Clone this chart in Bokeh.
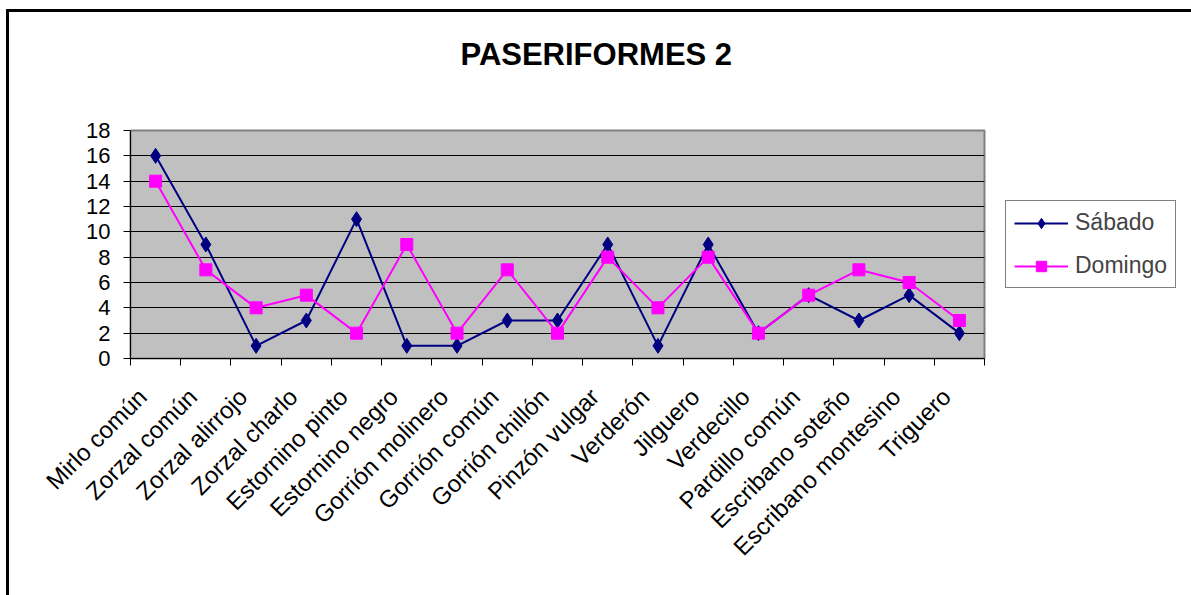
import math
from bokeh.plotting import figure
from bokeh.models import (Range1d, FixedTicker, Legend, LegendItem, ColumnDataSource,
                          LinearAxis)
from bokeh.embed import file_html
from bokeh.resources import INLINE

categories = ["Mirlo común", "Zorzal común", "Zorzal alirrojo", "Zorzal charlo",
              "Estornino pinto", "Estornino negro", "Gorrión molinero", "Gorrión común",
              "Gorrión chillón", "Pinzón vulgar", "Verderón", "Jilguero", "Verdecillo",
              "Pardillo común", "Escribano soteño", "Escribano montesino", "Triguero"]
sabado = [16, 9, 1, 3, 11, 1, 1, 3, 3, 9, 1, 9, 2, 5, 3, 5, 2]
domingo = [14, 7, 4, 5, 2, 9, 2, 7, 2, 8, 4, 8, 2, 5, 7, 6, 3]
y_ticks = list(range(0, 19, 2))
title_text = "PASERIFORMES 2"
series_names = ["Sábado", "Domingo"]

FONT = "Liberation Sans"
n = len(categories)
xpos = [i + 0.5 for i in range(n)]
src = ColumnDataSource(dict(x=xpos, s=sabado, d=domingo))

p = figure(width=1176, height=583, frame_width=854, frame_height=228,
           x_range=Range1d(0, n), y_range=Range1d(0, 18),
           output_backend="svg", toolbar_location=None,
           min_border_left=121, min_border_right=201, min_border_top=118,
           min_border_bottom=237, background_fill_color="#C0C0C0",
           border_fill_color="white")
p.styles = {"border-left": "3px solid black", "border-top": "3px solid black",
            "border-right": "3px solid black", "margin-left": "6px", "margin-top": "9px"}
p.outline_line_color = "#808080"
p.outline_line_width = 2

p.title.text = title_text
p.title.align = "left"
p.title.text_color = "black"
p.title.text_font = FONT
p.title.text_font_size = "31px"
p.title.text_font_style = "bold"
p.title.offset = 330
p.title.standoff = 42

# y axis
ya = p.left[0]
ya.ticker = FixedTicker(ticks=y_ticks)
ya.major_tick_out = 7
ya.major_tick_in = 0
ya.minor_tick_line_color = None
ya.major_label_standoff = 13
ya.major_label_text_font = FONT
ya.major_label_text_font_size = "22px"
ya.major_label_text_color = "black"
ya.axis_line_color = "black"
ya.major_tick_line_color = "black"

p.ygrid.ticker = FixedTicker(ticks=y_ticks)
p.ygrid.grid_line_color = "black"
p.xgrid.grid_line_color = None

# x axis: labels near category centres, ticks at category boundaries
xa = p.below[0]
label_ticks = [i + 0.24 for i in range(n)]
xa.ticker = FixedTicker(ticks=label_ticks, minor_ticks=list(range(n + 1)))
xa.major_label_overrides = {t: c for t, c in zip(label_ticks, categories)}
xa.major_tick_out = 0
xa.major_tick_in = 0
xa.minor_tick_out = 7
xa.minor_tick_in = 0
xa.minor_tick_line_color = "black"
xa.axis_line_color = "black"
xa.major_label_orientation = math.pi / 4
xa.major_label_standoff = 27
xa.major_label_text_font = FONT
xa.major_label_text_font_size = "24px"
xa.major_label_text_color = "black"

# blank spacer axis between title and plot area (white on white)
spacer = LinearAxis(ticker=FixedTicker(ticks=[0]), axis_line_color=None,
                    major_tick_out=38, major_tick_in=0, minor_tick_out=0, minor_tick_in=0,
                    major_tick_line_color="white", minor_tick_line_color=None,
                    major_label_overrides={0: ""}, major_label_standoff=0,
                    major_label_text_font_size="0px", major_label_text_color="white")
p.add_layout(spacer, "above")

l1 = p.line("x", "s", source=src, line_color="#000080", line_width=2)
m1 = p.scatter("x", "s", source=src, marker="diamond", size=15,
               fill_color="#000080", line_color="#000080")
l2 = p.line("x", "d", source=src, line_color="#FF00FF", line_width=2)
m2 = p.scatter("x", "d", source=src, marker="square", size=12,
               fill_color="#FF00FF", line_color="#FF00FF")

legend = Legend(items=[LegendItem(label=series_names[0], renderers=[l1, m1]),
                       LegendItem(label=series_names[1], renderers=[l2, m2])],
                location="center_left", margin=21, padding=8, spacing=16,
                glyph_width=54, glyph_height=26, label_height=26, label_standoff=7,
                label_text_font=FONT, label_text_font_size="23px",
                border_line_color="black", border_line_width=1,
                background_fill_color="white")
p.add_layout(legend, "right")

open("out.html", "w").write(file_html(p, INLINE))
